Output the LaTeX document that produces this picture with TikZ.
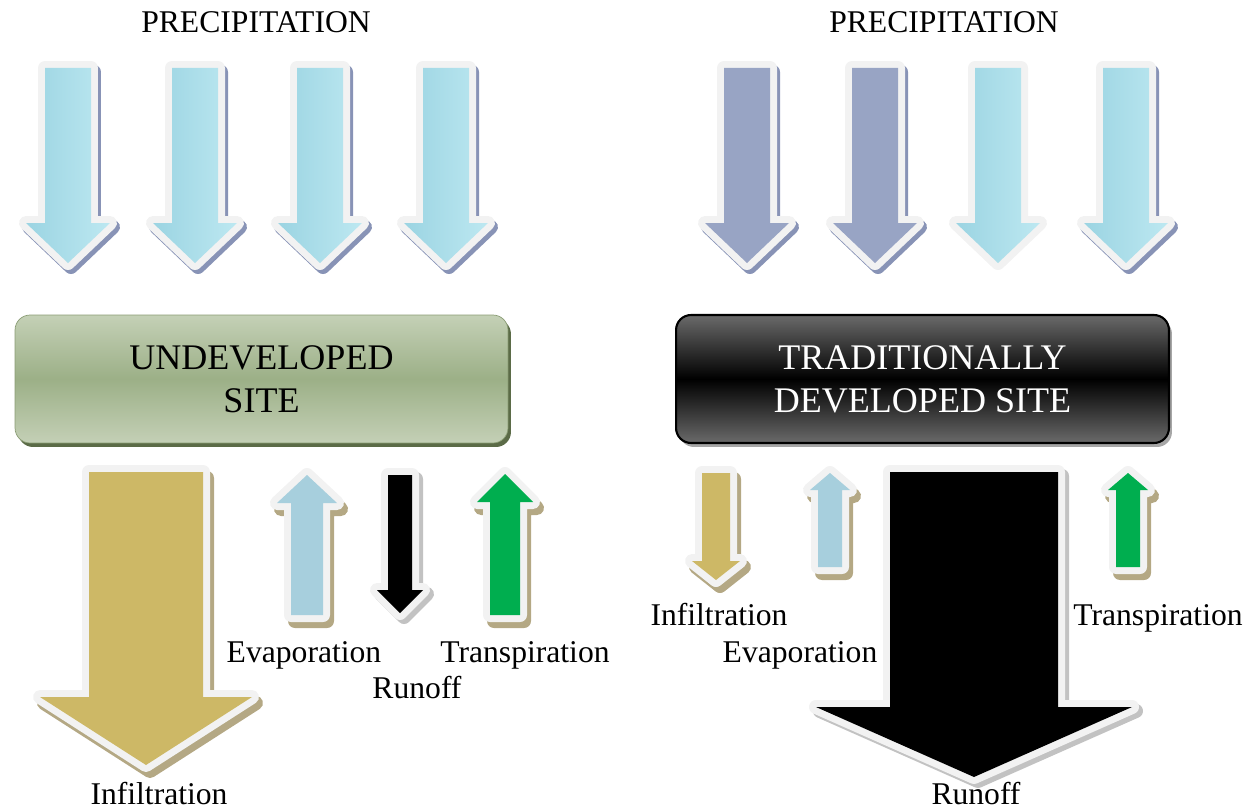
\documentclass[tikz,border=0pt]{standalone}
\usepackage{fontspec}
\setmainfont{Liberation Serif}
\usetikzlibrary{shadows}

\definecolor{rimgrey}{HTML}{F2F2F2}
\definecolor{waterlight}{HTML}{BDE8F1}
\definecolor{waterdeep}{HTML}{9BD4E2}
\definecolor{slateblue}{HTML}{98A4C4}
\definecolor{slateshade}{HTML}{8893B6}
\definecolor{soilgold}{HTML}{CDB866}
\definecolor{tanshadow}{HTML}{B4A884}
\definecolor{greyshadow}{HTML}{C2C2C2}
\definecolor{vapourblue}{HTML}{A7CFDD}
\definecolor{leafgreen}{HTML}{00AE4F}
\definecolor{sitegreen}{HTML}{9CB087}
\definecolor{sitegreenlight}{HTML}{C4D0B6}
\definecolor{sitegreenedge}{HTML}{8A9C74}
\definecolor{sitegreenshadow}{HTML}{5B6B47}
\definecolor{sitegrey}{HTML}{6A6A6A}

% block arrow: options, centre x, tail y, shaft half width, head half width, head base y, tip y
\newcommand{\arrowpoly}[7]{\path[#1] (#2-#4,#3) -- (#2+#4,#3) -- (#2+#4,#6) -- (#2+#5,#6) -- (#2,#7) -- (#2-#5,#6) -- (#2-#4,#6) -- cycle;}
% shadow, white rim, then the fill
\newcommand{\flowarrow}[8]{%
  \arrowpoly{#2}{#3}{#4}{#5}{#6}{#7}{#8}
  \arrowpoly{rim}{#3}{#4}{#5}{#6}{#7}{#8}
  \arrowpoly{#1}{#3}{#4}{#5}{#6}{#7}{#8}}

\begin{document}
\begin{tikzpicture}[x=0.02cm,y=-0.02cm]
    \tikzstyle{rim} = [draw=rimgrey,fill=rimgrey,line width=0.28cm,line join=round]
    \tikzstyle{rimshadow} = [line width=0.28cm,line join=round]
    \tikzstyle{blueshade} = [rimshadow,draw=slateshade,fill=slateshade,shift={(3,4)}]
    \tikzstyle{tanshade} = [rimshadow,draw=tanshadow,fill=tanshadow,shift={(4,6)}]
    \tikzstyle{greyshade} = [rimshadow,draw=greyshadow,fill=greyshadow,shift={(4,4)}]
    \tikzstyle{noshade} = [draw=none]
    \tikzstyle{water} = [left color=waterdeep,right color=waterlight]
    \tikzstyle{site} = [rounded corners=0.3cm,minimum width=9.86cm,minimum height=2.56cm,align=center,font=\fontsize{20.5}{24.5}\selectfont]
    \tikzstyle{flowtext} = [anchor=base,font=\fontsize{18}{21}\selectfont]
    \useasboundingbox (0,0) rectangle (1251,811);

    % precipitation
    \node (rainleft)[flowtext] at (256,33) {PRECIPITATION};
    \node (rainright)[flowtext] at (944,33) {PRECIPITATION};
    \foreach \cx in {68,195,320,446}
        {\flowarrow{water}{blueshade}{\cx}{68}{23}{42}{223}{263}}
    \foreach \cx in {747,875}
        {\flowarrow{fill=slateblue}{blueshade}{\cx}{68}{23}{42}{223}{263}}
    \flowarrow{water}{noshade}{998}{68}{23}{42}{223}{263}
    \flowarrow{water}{blueshade}{1126}{68}{23}{42}{223}{263}

    % sites
    \node (undeveloped)[site,draw=sitegreenedge,top color=sitegreenlight,bottom color=sitegreenlight,middle color=sitegreen,
        drop shadow={shadow xshift=0.06cm,shadow yshift=-0.08cm,fill=sitegreenshadow,opacity=1}] at (261.5,379) {UNDEVELOPED\\SITE};
    \node (developed)[site,draw=black,line width=1.2pt,top color=sitegrey,bottom color=sitegrey,middle color=black,text=white,
        drop shadow={shadow xshift=0.06cm,shadow yshift=-0.08cm,fill=gray!70,opacity=1}] at (922.5,379) {TRADITIONALLY\\DEVELOPED SITE};

    % undeveloped site
    \flowarrow{fill=soilgold}{tanshade}{146}{472}{57}{106}{697}{765}
    \flowarrow{fill=vapourblue}{tanshade}{307}{615}{16}{30}{503}{475}
    \flowarrow{fill=black}{greyshade}{400}{475}{12}{23}{590}{613}
    \flowarrow{fill=leafgreen}{tanshade}{505}{615}{15}{28}{502}{474}
    \node (infilleft)[flowtext] at (159,804) {Infiltration};
    \node (evapleft)[flowtext] at (304,662) {Evaporation};
    \node (transleft)[flowtext] at (525,662) {Transpiration};
    \node (runoffleft)[flowtext] at (417,698) {Runoff};

    % traditionally developed site
    \flowarrow{fill=soilgold}{tanshade}{716}{473}{14}{24}{561}{580}
    \flowarrow{fill=vapourblue}{tanshade}{830}{567}{12}{20}{490}{473}
    \flowarrow{fill=black}{greyshade}{974}{472}{84}{158}{707}{777}
    \flowarrow{fill=leafgreen}{tanshade}{1128}{567}{12}{20}{490}{473}
    \node (infilright)[flowtext] at (719,625) {Infiltration};
    \node (evapright)[flowtext] at (800,662) {Evaporation};
    \node (transright)[flowtext] at (1158,625) {Transpiration};
    \node (runoffright)[flowtext] at (976,804) {Runoff};
\end{tikzpicture}
\end{document}
